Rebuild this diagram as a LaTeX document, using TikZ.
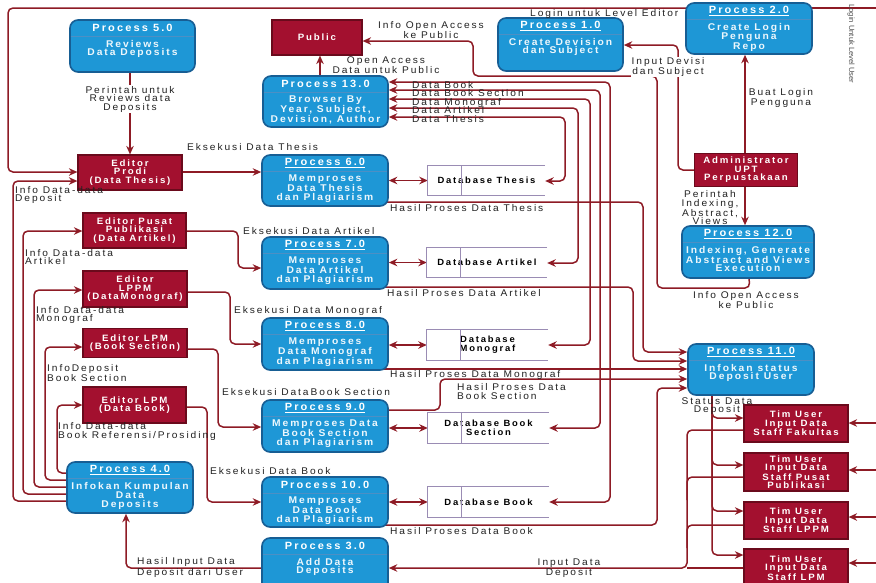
\documentclass[tikz,border=0pt]{standalone}
\usepackage{fontspec}
\setmainfont{Liberation Sans}[FakeStretch=1.05,LetterSpace=20]
\newfontfamily\slimfont{Liberation Sans}
\usetikzlibrary{arrows.meta,calc}

\definecolor{procfill}{HTML}{1E97D6}
\definecolor{procline}{HTML}{175E94}
\definecolor{procsep}{HTML}{4C8FC4}
\definecolor{extfill}{HTML}{A3102F}
\definecolor{extline}{HTML}{6A0A1C}
\definecolor{wirec}{HTML}{8E1B25}
\definecolor{storec}{HTML}{9A8CB4}
\definecolor{labelc}{HTML}{222222}

\pgfdeclarelayer{bg}
\pgfsetlayers{bg,main}

\tikzset{
  wire/.style={draw=wirec, line width=1.5pt, rounded corners=5pt},
  fwd/.style={wire, -{Stealth[length=8.5pt,width=7.5pt]}},
  dual/.style={wire, {Stealth[length=8.5pt,width=7.5pt]}-{Stealth[length=8.5pt,width=7.5pt]}},
  proc/.style={draw=procline, fill=procfill, line width=1.6pt, rounded corners=8pt},
  phead/.style={text=white, font=\fontsize{10.5}{10.5}\selectfont\bfseries, inner sep=0pt},
  pbody/.style={text=white!92!procfill, font=\fontsize{9.8}{8.7}\selectfont\bfseries, align=center, inner sep=0pt},
  ext/.style={draw=extline, fill=extfill, line width=1.2pt, text=white,
    font=\fontsize{9.2}{8.4}\selectfont\bfseries, align=center, inner sep=0pt},
  store/.style={inner sep=0pt, font=\fontsize{9}{9}\selectfont\bfseries, align=center},
  storeedge/.style={draw=storec, line width=1.2pt},
  lbl/.style={text=labelc, font=\fontsize{9.7}{8.5}\selectfont, align=center, inner sep=1pt},
  lbll/.style={lbl, align=left, anchor=west},
  stack/.style={lbll, inner sep=0pt, text height=6.2pt, text depth=1.6pt},
}

% process bubble: name, centre x, centre y, width, height, title, body
\newcommand\procbox[7]{%
  \node[proc, minimum width=#4, minimum height=#5] (#1) at (#2,#3) {};
  \node[phead] (#1-t) at ($(#1.north)+(0,8.5)$) {#6};
  \draw[procsep, line width=0.8pt] ($(#1.north west)+(1.5,17)$) -- ($(#1.north east)+(-1.5,17)$);
  \node[pbody, anchor=north] (#1-b) at ($(#1.north)+(0,20.5)$) {#7};
}

% open-ended data store: name, centre x, centre y, width, height, text
\newcommand\storebox[6]{%
  \node[store, minimum width=#4, minimum height=#5] (#1) at (#2,#3) {#6};
  \draw[storeedge] (#1.north east) -- (#1.north west) -- (#1.south west) -- (#1.south east);
  \draw[storeedge] ($(#1.north west)+(34,0)$) -- ($(#1.south west)+(34,0)$);
}

\begin{document}
\begin{tikzpicture}[x=1pt,y=-1pt]
\useasboundingbox (0,0) rectangle (876,582);
\begin{pgfonlayer}{bg}
  \fill[white] (0,0) rectangle (876,582);
\end{pgfonlayer}

% ---------- processes ----------
\procbox{p5}{132.5}{46}{125}{52}{Process 5.0}{Reviews\\Data Deposits}
\procbox{p13}{325.5}{101.5}{125}{51}{Process 13.0}{Browser By\\Year, Subject,\\Devision, Author}
\procbox{p1}{560.5}{44.5}{125}{53}{\underline{Process 1.0}}{Create Devision\\dan Subject}
\procbox{p2}{749}{28.5}{126}{51}{\underline{Process 2.0}}{Create Login\\Penguna\\Repo}
\procbox{p6}{325}{180.5}{126}{51}{\underline{Process 6.0}}{Memproses\\Data Thesis\\dan Plagiarism}
\procbox{p7}{325}{263}{126}{52}{\underline{Process 7.0}}{Memproses\\Data Artikel\\dan Plagiarism}
\procbox{p12}{748}{252}{132}{52}{\underline{Process 12.0}}{Indexing, Generate\\Abstract and Views\\Execution}
\procbox{p8}{325}{344}{126}{52}{\underline{Process 8.0}}{Memproses\\Data Monograf\\dan Plagiarism}
\procbox{p11}{751}{369.5}{126}{51}{\underline{Process 11.0}}{Infokan status\\Deposit User}
\procbox{p9}{325}{426}{126}{52}{\underline{Process 9.0}}{Memproses Data\\Book Section\\dan Plagiarism}
\procbox{p4}{130}{487.5}{126}{51}{\underline{Process 4.0}}{Infokan Kumpulan\\Data\\Deposits}
\procbox{p10}{325}{502}{126}{50}{Process 10.0}{Memproses\\Data Book\\dan Plagiarism}
\procbox{p3}{325}{565}{126}{54}{Process 3.0}{Add Data\\Deposits}

% ---------- external entities ----------
\node[ext, minimum width=90, minimum height=35] (public) at (317,37.5) {Public};
\node[ext, minimum width=104, minimum height=35] (prodi) at (130,172.5) {Editor\\Prodi\\(Data Thesis)};
\node[ext, minimum width=103, minimum height=33] (admin) at (746,170) {Administrator\\UPT\\Perpustakaan};
\node[ext, minimum width=103, minimum height=35] (pubEd) at (134.5,230.5) {Editor Pusat\\Publikasi\\(Data Artikel)};
\node[ext, minimum width=104, minimum height=36] (lppm) at (135,289) {Editor\\LPPM\\(DataMonograf)};
\node[ext, minimum width=104, minimum height=29] (bsEd) at (135,343) {Editor LPM\\(Book Section)};
\node[ext, minimum width=103, minimum height=36] (bookEd) at (134.5,405) {Editor LPM\\(Data Book)};
\node[ext, minimum width=104, minimum height=37] (tu1) at (796,423.5) {Tim User\\Input Data\\Staff Fakultas};
\node[ext, minimum width=104, minimum height=38] (tu2) at (796,472) {Tim User\\Input Data\\Staff Pusat\\Publikasi};
\node[ext, minimum width=104, minimum height=37] (tu3) at (796,520.5) {Tim User\\Input Data\\Staff LPPM};
\node[ext, minimum width=104, minimum height=38] (tu4) at (796,568) {Tim User\\Input Data\\Staff LPM};

% ---------- data stores ----------
\storebox{dbT}{486.5}{180.5}{117}{29}{Database Thesis}
\storebox{dbA}{487}{262.5}{120}{29}{Database Artikel}
\storebox{dbM}{487.5}{345}{121}{30}{Database\\Monograf}
\storebox{dbBS}{488.5}{428}{121}{30}{Database Book\\Section}
\storebox{dbB}{488.5}{502}{121}{30}{Database Book}

% ---------- flows ----------
\coordinate (userlink) at (876,8);
\coordinate (in1) at (876,423);
\coordinate (in2) at (876,470);
\coordinate (in3) at (876,517);
\coordinate (in4) at (876,563);

\begin{pgfonlayer}{bg}
  % reviews command
  \draw[fwd] (p5.south -| prodi.north) -- (prodi.north);
  % logins
  \draw[fwd] (p2 |- 0,8) -- (8,8) -- (8,172) -- (prodi.west |- 0,172);
  \draw[wire] (p2 |- 0,8) -- (userlink);
  % deposit info back to the editors
  \draw[fwd] (p4 |- 0,473) -- (57,473) -- (57,405) -- (bookEd.west |- 0,405);
  \draw[fwd] (p4 |- 0,480) -- (45,480) -- (45,347) -- (bsEd.west |- 0,347);
  \draw[fwd] (p4 |- 0,487) -- (34,487) -- (34,290) -- (lppm.west |- 0,290);
  \draw[fwd] (p4 |- 0,494) -- (23,494) -- (23,231) -- (pubEd.west |- 0,231);
  \draw[fwd] (p4 |- 0,501) -- (13,501) -- (13,181) -- (prodi.west |- 0,181);
  % executions
  \draw[fwd] (prodi.east |- 0,172) -- (p6.west |- 0,172);
  \draw[fwd] (pubEd.east |- 0,231) -- (238,231) -- (238,268) -- (p7.west |- 0,268);
  \draw[fwd] (lppm.east |- 0,292) -- (230,292) -- (230,344) -- (p8.west |- 0,344);
  \draw[fwd] (bsEd.east |- 0,349) -- (218,349) -- (218,427) -- (p9.west |- 0,427);
  \draw[fwd] (bookEd.east |- 0,407) -- (207,407) -- (207,502) -- (p10.west |- 0,502);
  % processes and their stores
  \draw[dual] (p6.east |- dbT.west) -- (dbT.west);
  \draw[dual] (p7.east |- dbA.west) -- (dbA.west);
  \draw[dual] (p8.east |- dbM.west) -- (dbM.west);
  \draw[dual] (p9.east |- dbBS.west) -- (dbBS.west);
  \draw[dual] (p10.east |- dbB.west) -- (dbB.west);
  % browsing
  \draw[dual] (p13.east |- 0,82) -- (610,82) -- (610,502) -- (dbB.east |- 0,502);
  \draw[dual] (p13.east |- 0,90) -- (600,90) -- (600,428) -- (dbBS.east |- 0,428);
  \draw[dual] (p13.east |- 0,99) -- (590,99) -- (590,345) -- (dbM.east |- 0,345);
  \draw[dual] (p13.east |- 0,108) -- (578,108) -- (578,263) -- (dbA.east |- 0,263);
  \draw[dual] (p13.east |- 0,117) -- (565,117) -- (565,181) -- (dbT.east |- 0,181);
  % open access
  \draw[fwd] (p12 |- 0,270) -- (750,288) -- (657,288) -- (657,76) -- (473,76) -- (473,41) -- (public.east |- 0,41);
  \draw[fwd] (p13.north -| 320,0) -- (public.south -| 320,0);
  % administrator
  \draw[fwd] (admin.west |- 0,170) -- (678,170) -- (678,45) -- (p1.east |- 0,45);
  \draw[fwd] (admin.north -| 745,0) -- (p2.south -| 745,0);
  \draw[fwd] (admin.south -| 745,0) -- (p12.north -| 745,0);
  % processing results
  \draw[fwd] (p6 |- 0,202) -- (643,202) -- (643,352) -- (p11.west |- 0,352);
  \draw[fwd] (p7 |- 0,287) -- (633,287) -- (633,361) -- (p11.west |- 0,361);
  \draw[fwd] (p8 |- 0,369) -- (p11.west |- 0,369);
  \draw[fwd] (p9 |- 0,410) -- (440,410) -- (440,379) -- (p11.west |- 0,379);
  \draw[fwd] (p10 |- 0,525) -- (657,525) -- (657,388) -- (p11.west |- 0,388);
  % deposits
  \draw[fwd] (p3.west |- 0,568) -- (126,568) -- (p4.south -| 126,0);
  \draw[fwd] (tu1.west |- 0,430) -- (687,430) -- (687,568) -- (p3.east |- 0,568);
  \draw[wire] (tu2.west |- 0,477) -- (687,477) -- (687,500);
  \draw[wire] (tu3.west |- 0,525) -- (687,525) -- (687,548);
  \draw[wire] (tu4.west |- 0,568) -- (687,568);
  % deposit status
  \draw[fwd] (p11.south -| 712,0) -- (712,418) -- (tu1.west |- 0,418);
  \draw[fwd] (p11.south -| 712,0) -- (712,465) -- (tu2.west |- 0,465);
  \draw[fwd] (p11.south -| 712,0) -- (712,511) -- (tu3.west |- 0,511);
  \draw[fwd] (p11.south -| 712,0) -- (712,555) -- (tu4.west |- 0,555);
  % user logins from the right
  \draw[fwd] (in1) -- (tu1.east |- in1);
  \draw[fwd] (in2) -- (tu2.east |- in2);
  \draw[fwd] (in3) -- (tu3.east |- in3);
  \draw[fwd] (in4) -- (tu4.east |- in4);
\end{pgfonlayer}

% ---------- flow labels ----------
\node[lbl, fill=white] at (130,99) {Perintah untuk\\Reviews data\\Deposits};
\node[lbll] at (529,14) {Login untuk Level Editor};
\node[rotate=-90, font=\slimfont\fontsize{7.6}{7.6}\selectfont, text=labelc!80, inner sep=0pt] at (851,44) {Login Untuk Level User};
\node[lbll] at (14,195) {Info Data-data\\Deposit};
\node[lbll] at (24,257) {Info Data-data\\Artikel};
\node[lbll] at (35,315) {Info Data-data\\Monograf};
\node[lbll] at (46,373.5) {InfoDeposit\\Book Section};
\node[lbll] at (57,431.5) {Info Data-data\\Book Referensi/Prosiding};
\node[lbll] at (186,147) {Eksekusi Data Thesis};
\node[lbll] at (242,231) {Eksekusi Data Artikel};
\node[lbll] at (233,311) {Eksekusi Data Monograf};
\node[lbll] at (221,392) {Eksekusi DataBook Section};
\node[lbll] at (209,471) {Eksekusi Data Book};
\node[stack] at (412,86) {Data Book};
\node[stack] at (412,94.5) {Data Book Section};
\node[stack] at (412,103) {Data Monograf};
\node[stack] at (412,111.5) {Data Artikel};
\node[stack] at (412,120) {Data Thesis};
\node[lbl] at (431,30) {Info Open Access\\ke Public};
\node[lbl] at (746,300) {Info Open Access\\ke Public};
\node[lbl] at (386,65) {Open Access\\Data untuk Public};
\node[lbl, fill=white, inner sep=0.5pt] at (668,67) {Input Devisi\\dan Subject};
\node[lbl] at (781,98) {Buat Login\\Pengguna};
\node[lbl] at (710,208) {Perintah\\Indexing,\\Abstract,\\Views};
\node[lbll] at (389,208) {Hasil Proses Data Thesis};
\node[lbll] at (386,293) {Hasil Proses Data Artikel};
\node[lbll] at (389,375) {Hasil Proses Data Monograf};
\node[lbll] at (456,391.5) {Hasil Proses Data\\Book Section};
\node[lbll] at (389,531) {Hasil Proses Data Book};
\node[lbll] at (136,567.5) {Hasil Input Data\\Deposit dari User};
\node[lbl] at (569,568) {Input Data\\Deposit};
\node[lbl] at (717,406) {Status Data\\Deposit};
\end{tikzpicture}
\end{document}
